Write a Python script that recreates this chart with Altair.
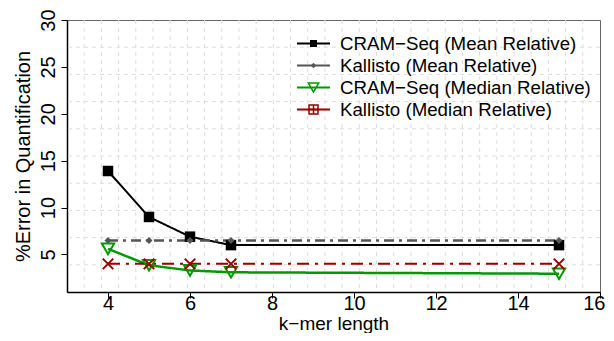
import altair as alt
import numpy as np
import pandas as pd

# ---- data ----
kmer = [4, 5, 6, 7, 15]
cram_mean = [13.9, 9.0, 6.9, 6.0, 6.0]
kallisto_mean = [6.5, 6.5, 6.5, 6.5, 6.5]
cram_median = [5.6, 3.85, 3.3, 3.1, 2.95]
kallisto_median = [4.0, 4.0, 4.0, 4.0, 4.0]

series_names = [
    "CRAM\u2212Seq (Mean Relative)",
    "Kallisto (Mean Relative)",
    "CRAM\u2212Seq (Median Relative)",
    "Kallisto (Median Relative)",
]
series_values = [cram_mean, kallisto_mean, cram_median, kallisto_median]

x_ticks = [4, 6, 8, 10, 12, 14, 16]
y_ticks = [5, 10, 15, 20, 25, 30]
x_domain = [3, 16]
y_domain = [1, 30]

# ---- styles ----
FONT = "Liberation Sans"
colors = ["#000000", "#555555", "#009900", "#990000"]
dashes = [[1, 0], [10, 5, 3, 5], [1, 0], [12, 6, 3, 6]]
widths = [2, 2.5, 2.5, 2]
XPATH = "M-1,-1L1,1M-1,1L1,-1"
BOXPLUS = "M-1,-1H1V1H-1Z M0,-1V1 M-1,0H1"
plot_shapes = ["square", "diamond", "triangle-down", XPATH]
plot_sizes = [110, 50, 150, 110]
plot_filled = [True, True, False, False]
leg_shapes = ["square", "diamond", "triangle-down", BOXPLUS]
leg_sizes = [49, 30, 110, 80]

rows = []
for name, vals in zip(series_names, series_values):
    for k, v in zip(kmer, vals):
        rows.append({"series": name, "k": k, "err": v})
df = pd.DataFrame(rows)

W, H = 533, 272
xs = alt.Scale(domain=x_domain, nice=False, zero=False)
ys = alt.Scale(domain=y_domain, nice=False, zero=False)

xaxis = alt.Axis(values=x_ticks, grid=False, title="k\u2212mer length", tickSize=6,
                 tickColor="black", domainColor="black", domainWidth=1.5,
                 labelFont=FONT, labelFontSize=20, labelColor="black", labelPadding=-5,
                 labelFlush=True, labelFlushOffset=5,
                 titleFont=FONT, titleFontSize=19, titleFontWeight="normal",
                 titleColor="black", titleBaseline="bottom", titleY=41)
yaxis = alt.Axis(values=y_ticks, grid=False, title="%Error in Quantification", tickSize=6,
                 tickColor="black", domainColor="black", domainWidth=1.5,
                 labelFont=FONT, labelFontSize=20, labelColor="black", labelAngle=270,
                 labelPadding=3, labelFlush=False,
                 titleFont=FONT, titleFontSize=20, titleFontWeight="normal",
                 titleColor="black", titlePadding=5)

base = alt.Chart(df)
axes_layer = base.mark_point(opacity=0).encode(
    x=alt.X("k:Q", scale=xs, axis=xaxis),
    y=alt.Y("err:Q", scale=ys, axis=yaxis),
)

# grid (R grid(): equally spaced lines)
gx = pd.DataFrame({"gx": np.linspace(x_domain[0], x_domain[1], 32)[1:-1]})
gy = pd.DataFrame({"gy": np.linspace(y_domain[0], y_domain[1], 11)[1:-1]})
grid_x = alt.Chart(gx).mark_rule(color="#dddddd", strokeDash=[4, 4], strokeWidth=1).encode(
    x=alt.X("gx:Q", scale=xs, axis=xaxis))
grid_y = alt.Chart(gy).mark_rule(color="#dddddd", strokeDash=[4, 4], strokeWidth=1).encode(
    y=alt.Y("gy:Q", scale=ys, axis=yaxis))

layers = [axes_layer, grid_x, grid_y]
for i, name in enumerate(series_names):
    sub = base.transform_filter(alt.datum.series == name)
    layers.append(sub.mark_line(color=colors[i], strokeWidth=widths[i],
                                strokeDash=dashes[i]).encode(
        x=alt.X("k:Q", scale=xs, axis=xaxis), y=alt.Y("err:Q", scale=ys, axis=yaxis)))
for i, name in enumerate(series_names):
    sub = base.transform_filter(alt.datum.series == name)
    kw = dict(shape=plot_shapes[i], size=plot_sizes[i], color=colors[i],
              filled=plot_filled[i], opacity=1)
    if not plot_filled[i]:
        kw["strokeWidth"] = 2
    layers.append(sub.mark_point(**kw).encode(
        x=alt.X("k:Q", scale=xs, axis=xaxis), y=alt.Y("err:Q", scale=ys, axis=yaxis)))

# legend (top right, inside plot)
leg_y = [23.5, 45.5, 67.5, 89.5]
for i, name in enumerate(series_names):
    ld = pd.DataFrame({"label": [name]})
    lc = alt.Chart(ld)
    layers.append(lc.mark_rule(color=colors[i], strokeWidth=2).encode(
        x=alt.value(230), x2=alt.value(263), y=alt.value(leg_y[i])))
    kw = dict(shape=leg_shapes[i], size=leg_sizes[i], color=colors[i],
              filled=(i < 2), opacity=1)
    if i >= 2:
        kw["strokeWidth"] = 1.5
    layers.append(lc.mark_point(**kw).encode(x=alt.value(246.5), y=alt.value(leg_y[i])))
    layers.append(lc.mark_text(align="left", baseline="middle", font=FONT,
                               fontSize=18.7, color="black").encode(
        x=alt.value(273), y=alt.value(leg_y[i]), text="label:N"))

chart = alt.layer(*layers).properties(
    width=W, height=H,
    autosize=alt.AutoSizeParams(type="none"),
    padding={"left": 59, "top": 12, "right": 6, "bottom": 41},
    background="white",
).configure_view(stroke="#666666", strokeWidth=1)

chart.save("out.html", embed_options={"renderer": "svg", "actions": False})
